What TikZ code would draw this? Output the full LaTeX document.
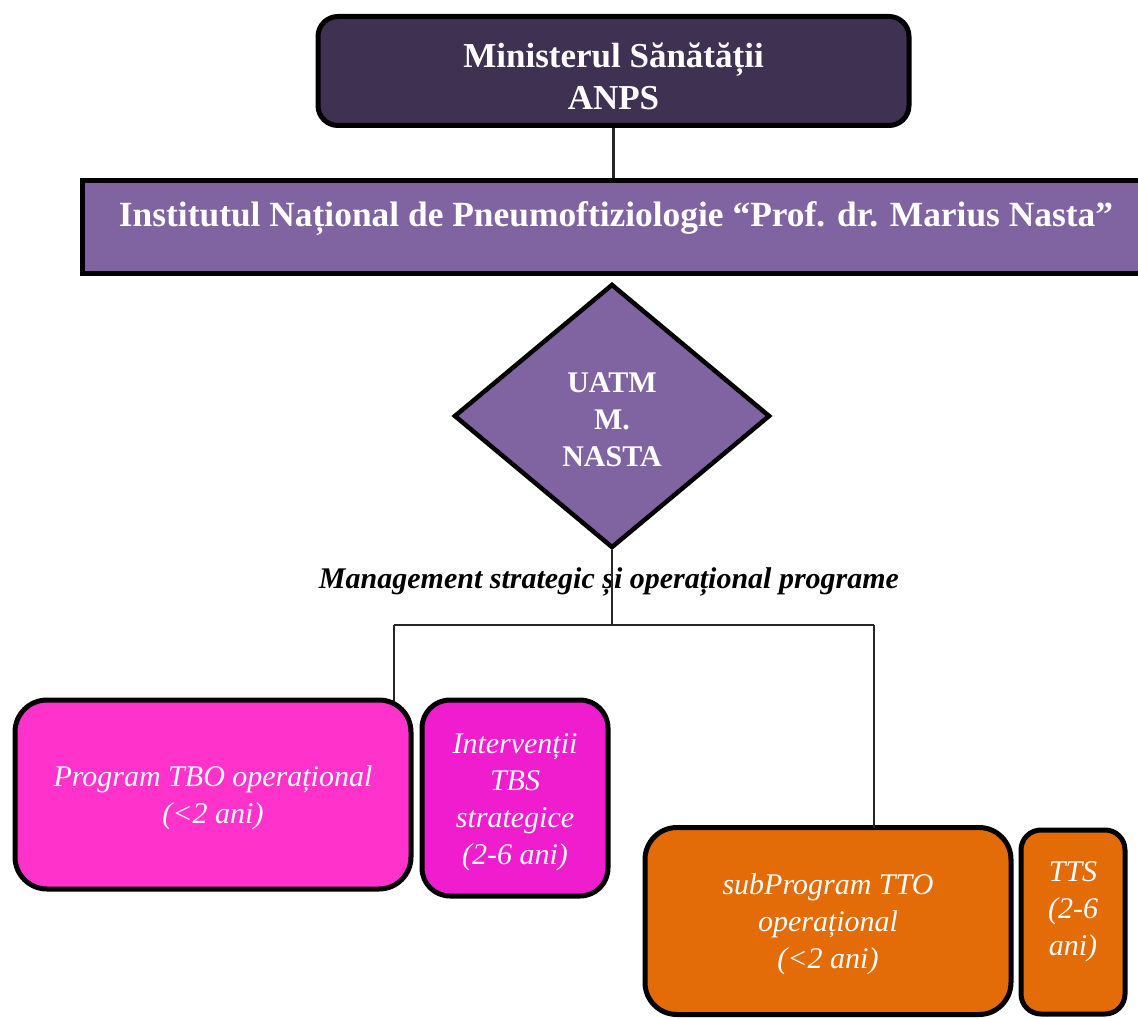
\documentclass[tikz,border=0pt]{standalone}
\usepackage{fontspec}
\setmainfont{Liberation Serif}
\usetikzlibrary{shapes.geometric}

\definecolor{msfill}{HTML}{3F3151}
\definecolor{inpfill}{HTML}{8064A2}
\definecolor{tbofill}{HTML}{FF33CC}
\definecolor{tbsfill}{HTML}{EF1DCD}
\definecolor{ttofill}{HTML}{E36C09}

\begin{document}
\begin{tikzpicture}[x=1pt, y=-1pt,
        topbox/.style = {draw = black, line width = 5pt, inner sep = 0pt},
        progbox/.style = {topbox, rounded corners = 32pt},
        boxtext/.style = {white, align = center, inner sep = 0pt, font = \fontsize{30}{37}\selectfont\itshape},
        headtext/.style = {white, align = center, inner sep = 0pt, font = \fontsize{35}{42}\selectfont\bfseries},
        link/.style = {draw = black!85, line width = 1.6pt}
    ]
        \useasboundingbox (0,0) rectangle (1138,1019);
        \clip (0,0) rectangle (1138,1019);

        \node[topbox, fill = msfill, rounded corners = 20pt, minimum width = 591pt, minimum height = 109pt] (MS) at (613.5,71) {};
        \node[headtext] (MSt) at ([yshift = -5pt]MS.center) {Ministerul Sănătății\\ANPS};

        \node[topbox, fill = inpfill, minimum width = 1063pt, minimum height = 93pt] (INP) at (613.5,227) {};
        \node[headtext, font = \fontsize{35.4}{40}\selectfont\bfseries] (INPt) at (616,219) {Institutul Național de Pneumoftiziologie “Prof. dr. Marius Nasta”};

        \node[topbox, diamond, fill = inpfill, line width = 4.5pt, minimum width = 316pt, minimum height = 264pt] (UATM) at (612,416) {};
        \node[headtext, font = \fontsize{30}{37}\selectfont\bfseries] (UATMt) at ([yshift = -4pt]UATM.center) {UATM\\M.\\NASTA};

        \node[font = \fontsize{30}{34}\selectfont\bfseries\itshape, inner sep = 0pt] (MSO) at (609,582) {Management strategic și operațional programe};

        \node[progbox, fill = tbofill, minimum width = 396pt, minimum height = 189pt] (TBO) at (213,794.5) {};
        \node[boxtext] (TBOt) at ([yshift = -3pt]TBO.center) {Program TBO operațional\\(<2 ani)};

        \node[progbox, fill = tbsfill, minimum width = 186pt, minimum height = 196pt, rounded corners = 28pt] (TBS) at (515,798) {};
        \node[boxtext] (TBSt) at ([yshift = -4pt]TBS.center) {Intervenții\\TBS\\strategice\\(2-6 ani)};

        \node[progbox, fill = ttofill, minimum width = 366pt, minimum height = 187pt] (TTO) at (828,921) {};
        \node[boxtext] (TTOt) at ([yshift = -3pt]TTO.center) {subProgram TTO\\operațional\\(<2 ani)};

        \node[progbox, fill = ttofill, minimum width = 104pt, minimum height = 184pt, rounded corners = 20pt] (TTS) at (1073,922) {};
        \node[boxtext] (TTSt) at ([yshift = 10pt]TTS.center) {TTS\\(2-6\\ani)};

        \coordinate (split) at (612,625);
        \coordinate (jl) at (394,625);
        \coordinate (jr) at (874,625);

        \draw[link, line width = 3pt] (MS.south) -- (INP.north);
        \draw[link] (UATM.south) -- (split);
        \draw[link] (jl) -- (jr);
        \draw[link] (jl) -- ([yshift = -3pt]jl |- TBO.north);
        \draw[link] (jr) -- ([yshift = -3pt]jr |- TTO.north);

    \end{tikzpicture}
\end{document}
